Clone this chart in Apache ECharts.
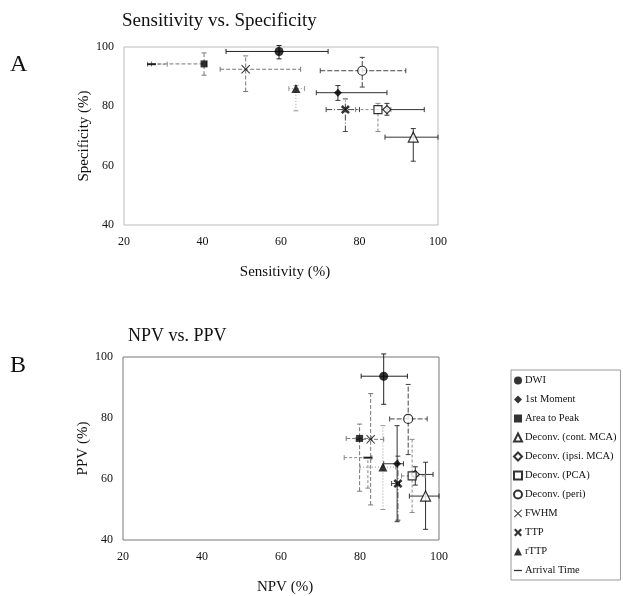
<!DOCTYPE html>
<html><head><meta charset="utf-8">
<script src="https://cdn.jsdelivr.net/npm/echarts@6/dist/echarts.min.js"></script>
<style>html,body{margin:0;padding:0;background:#fff}#c{width:623px;height:596px}</style>
</head><body><div id="c"></div>
<script>
// ---- data ----
const methods = ['DWI','1st Moment','Area to Peak','Deconv. (cont. MCA)','Deconv. (ipsi. MCA)','Deconv. (PCA)','Deconv. (peri)','FWHM','TTP','rTTP','Arrival Time'];
// Panel A: Sensitivity vs Specificity
const sensitivity = [59.5, 74.5, 40.4, 93.7, 87.0, 84.7, 80.7, 51.0, 76.4, 63.8, 27.0];
const specificity = [98.5, 84.6, 94.3, 69.6, 78.9, 78.9, 92.0, 92.5, 78.9, 86.0, 94.2];
const sensLow  = [46, 69, 27, 86.5, 87, 79, 70, 44.5, 71.5, 62, 26];
const sensHigh = [72, 87, 41, 100, 96.5, 88, 91.8, 65, 80, 66, 31];
const specLow  = [96, 82, 90.5, 61.5, 77, 71.5, 86.5, 85, 71.5, 78.5, 94.2];
const specHigh = [100.5, 87, 98, 72.5, 81, 81, 96.5, 97, 82.5, 87, 94.2];
// Panel B: NPV vs PPV
const npv = [86.0, 89.4, 79.9, 96.6, 94.0, 93.2, 92.2, 82.7, 89.6, 85.8, 82.0];
const ppv = [93.7, 65.0, 73.3, 54.4, 61.5, 61.0, 79.7, 73.0, 58.5, 63.9, 67.0];
const npvLow  = [80.3, 86, 76.5, 92.5, 93.5, 90.5, 87.5, 79, 88, 80, 76];
const npvHigh = [92, 91, 83, 100, 98.5, 96.5, 97, 86, 90, 89, 83];
const ppvLow  = [84.5, 46, 56, 43.5, 58, 49, 68, 51.5, 46.5, 50, 57];
const ppvHigh = [101, 77.5, 78, 65.5, 64, 73, 91, 88, 67.5, 77.5, 67];
// axis ticks
const xTicks = [20, 40, 60, 80, 100];
const yTicks = [40, 60, 80, 100];

// ---- styles ----
const xThin = 'path://M0,0.8 L0.8,0 L5,4.2 L9.2,0 L10,0.8 L5.8,5 L10,9.2 L9.2,10 L5,5.8 L0.8,10 L0,9.2 L4.2,5 Z';
const xBold = 'path://M0,2 L2,0 L5,3 L8,0 L10,2 L7,5 L10,8 L8,10 L5,7 L2,10 L0,8 L3,5 Z';
const dash = 'path://M0,0 L10,0 L10,1.6 L0,1.6 Z';
const mSymbol = ['circle','diamond','rect','triangle','diamond','rect','circle', xThin, xBold, 'triangle', dash];
const mFilled = [true,true,true,false,false,false,false,true,true,true,true];
const mSize = [9, 8, 7, 10, 8, 8, 9, 9, 9, 9, [9,2]];
const errColor = ['#222','#333','#777','#333','#333','#888','#444','#777','#444','#999','#888'];
const errDash = [null, null, [4,2], null, null, [3,2], [5,2], [4,2], [6,2,1,2], [1,2], [3,2]];
const FONT = 'Liberation Serif';

function errRender(params, api){
  const i = params.dataIndex;
  const x = api.value(0), y = api.value(1);
  const xl = api.value(2), xh = api.value(3), yl = api.value(4), yh = api.value(5);
  const st = {stroke: errColor[i], lineWidth: 1, lineDash: errDash[i], fill: null};
  const ch = [];
  const cap = 2.5;
  if (xh > xl) {
    const a = api.coord([xl, y]), b = api.coord([xh, y]);
    ch.push({type:'line', shape:{x1:a[0], y1:a[1], x2:b[0], y2:b[1]}, style:st});
    ch.push({type:'line', shape:{x1:a[0], y1:a[1]-cap, x2:a[0], y2:a[1]+cap}, style:{stroke: errColor[i], lineWidth:1}});
    ch.push({type:'line', shape:{x1:b[0], y1:b[1]-cap, x2:b[0], y2:b[1]+cap}, style:{stroke: errColor[i], lineWidth:1}});
  }
  if (yh > yl) {
    const a = api.coord([x, yl]), b = api.coord([x, yh]);
    ch.push({type:'line', shape:{x1:a[0], y1:a[1], x2:b[0], y2:b[1]}, style:st});
    ch.push({type:'line', shape:{x1:a[0]-cap, y1:a[1], x2:a[0]+cap, y2:a[1]}, style:{stroke: errColor[i], lineWidth:1}});
    ch.push({type:'line', shape:{x1:b[0]-cap, y1:b[1], x2:b[0]+cap, y2:b[1]}, style:{stroke: errColor[i], lineWidth:1}});
  }
  return {type:'group', children: ch};
}

function axisX(gi, name){
  return {gridIndex: gi, type:'value', min: xTicks[0], max: xTicks[xTicks.length-1], interval: 20,
    name: name, nameLocation:'middle', nameGap: 40, nameMoveOverlap:false,
    nameTextStyle:{fontFamily:FONT, fontSize:15, color:'#111', padding:[0,0,0,8]},
    axisLine:{show:false}, axisTick:{show:false}, splitLine:{show:false},
    axisLabel:{fontFamily:FONT, fontSize:12, color:'#111', margin:11}};
}
function axisY(gi, name){
  return {gridIndex: gi, type:'value', min: yTicks[0], max: yTicks[yTicks.length-1], interval: 20,
    name: name, nameLocation:'middle', nameGap: 32, nameMoveOverlap:false,
    nameTextStyle:{fontFamily:FONT, fontSize:15, color:'#111'},
    axisLine:{show:false}, axisTick:{show:false}, splitLine:{show:false},
    axisLabel:{fontFamily:FONT, fontSize:12, color:'#111', margin:10}};
}

const series = [];
series.push({type:'custom', name:'errA', xAxisIndex:0, yAxisIndex:0, clip:false, silent:true,
  renderItem: errRender, encode:{x:0, y:1},
  data: methods.map((m,i)=>[sensitivity[i], specificity[i], sensLow[i], sensHigh[i], specLow[i], specHigh[i]])});
series.push({type:'custom', name:'errB', xAxisIndex:1, yAxisIndex:1, clip:false, silent:true,
  renderItem: errRender, encode:{x:0, y:1},
  data: methods.map((m,i)=>[npv[i], ppv[i], npvLow[i], npvHigh[i], ppvLow[i], ppvHigh[i]])});
methods.forEach((m,i)=>{
  const itemStyle = mFilled[i] ? {color:'#000'} : {color:'#fff', borderColor:'#000', borderWidth:1.2};
  series.push({type:'scatter', name:m, xAxisIndex:0, yAxisIndex:0, symbol:mSymbol[i], symbolSize:mSize[i],
    itemStyle, z:5, data:[[sensitivity[i], specificity[i]]]});
  series.push({type:'scatter', name:m, xAxisIndex:1, yAxisIndex:1, symbol:mSymbol[i], symbolSize:mSize[i],
    itemStyle, z:5, data:[[npv[i], ppv[i]]]});
});

const chart = echarts.init(document.getElementById('c'), null, {renderer:'canvas'});
chart.setOption({
  animation:false,
  backgroundColor:'#fff',
  title:[
    {text:'Sensitivity vs. Specificity', left:122, top:12, padding:0, textStyle:{fontFamily:FONT, fontSize:19, fontWeight:'normal', color:'#111'}},
    {text:'A', left:10, top:53, padding:0, textStyle:{fontFamily:FONT, fontSize:24, fontWeight:'normal', color:'#111'}},
    {text:'NPV vs. PPV', left:128, top:327, padding:0, textStyle:{fontFamily:FONT, fontSize:18, fontWeight:'normal', color:'#111'}},
    {text:'B', left:10, top:354, padding:0, textStyle:{fontFamily:FONT, fontSize:24, fontWeight:'normal', color:'#111'}}
  ],
  grid:[
    {left:124, top:47, width:314, height:178, show:true, borderColor:'#bbb', borderWidth:1, containLabel:false},
    {left:123, top:357, width:316, height:184, show:true, borderColor:'#777', borderWidth:1, containLabel:false}
  ],
  xAxis:[axisX(0,'Sensitivity (%)'), axisX(1,'NPV (%)')],
  yAxis:[axisY(0,'Specificity (%)'), axisY(1,'PPV (%)')],
  legend:{
    data: methods, orient:'vertical', left:511, top:370, padding:[5,4,4,2],
    itemWidth:8, itemHeight:8, itemGap:8,
    borderColor:'#999', borderWidth:1, symbolKeepAspect:true,
    textStyle:{fontFamily:FONT, fontSize:10.5, color:'#111', lineHeight:9, padding:[0,0,0,-2]}
  },
  series
});
</script></body></html>
